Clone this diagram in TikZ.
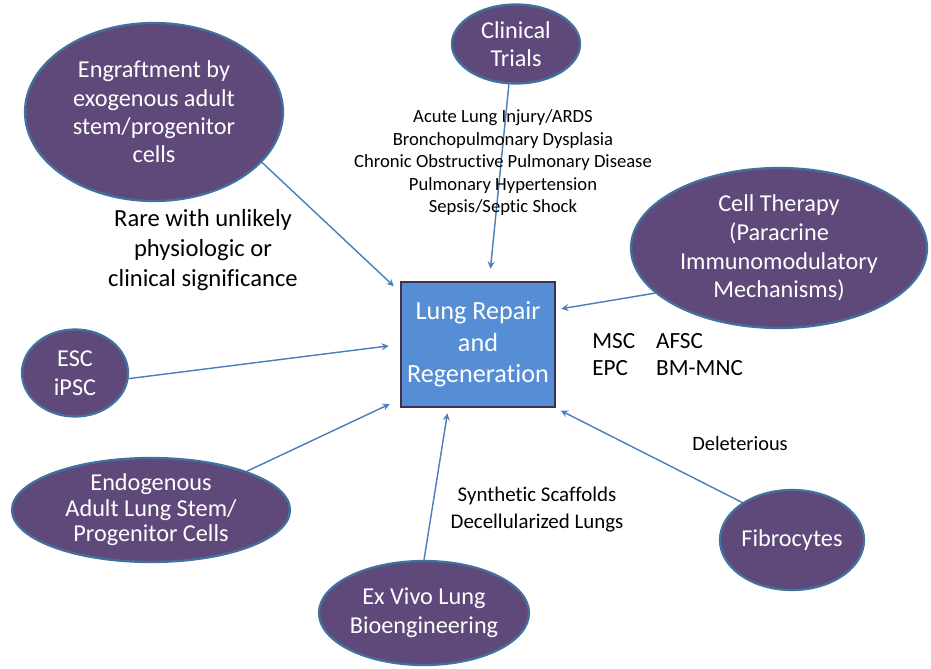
\documentclass[tikz,border=0pt]{standalone}
\usepackage{fontspec}
\setmainfont{Carlito}[Ligatures=CommonOff]
\usetikzlibrary{shapes.geometric}
\definecolor{bubble}{HTML}{5F497A}
\definecolor{rim}{HTML}{41719C}
\definecolor{boxfill}{HTML}{558ED5}
\definecolor{boxrim}{HTML}{3F3151}
\definecolor{link}{HTML}{4A7EBB}
\begin{document}
\begin{tikzpicture}[x=0.02cm,y=-0.02cm,
	arrow/.style={>=stealth,->,draw=link,fill=link,line width=0.8pt},
	bubble/.style={ellipse,fill=bubble,draw=rim,line width=1.3pt,text=white,align=center,inner sep=0pt,font=\fontsize{13.8}{16.3}\selectfont},
	note/.style={align=center}]
	\useasboundingbox (0,0) rectangle (931,669);
	% center box
	\node[draw=boxrim,fill=boxfill,line width=1.6pt,minimum width=3.08cm,minimum height=2.5cm,text=white,align=center,font=\fontsize{14.9}{18}\selectfont] (box) at (478,344.5) {Lung Repair\\and\\Regeneration};
	% ellipses
	\node[bubble,minimum width=2.56cm,minimum height=1.58cm] (trials) at (516,44) {Clinical\\Trials};
	\node[bubble,minimum width=5.16cm,minimum height=3.56cm,font=\fontsize{13.8}{16.1}\selectfont] (engraft) at (154,112) {Engraftment by\\exogenous adult\\stem/progenitor\\cells};
	\node[bubble,minimum width=5.92cm,minimum height=3.2cm] (therapy) at (779,248) {Cell Therapy\\(Paracrine\\Immunomodulatory\\Mechanisms)};
	\node[bubble,minimum width=2.12cm,minimum height=1.74cm] (esc) at (75,373) {ESC\\iPSC};
	\node[bubble,minimum width=5.56cm,minimum height=2.08cm,font=\fontsize{13.8}{14.6}\selectfont] (endo) at (151,510) {Endogenous\\Adult Lung Stem/\\Progenitor Cells};
	\node[bubble,minimum width=4.2cm,minimum height=2.08cm] (exvivo) at (424,613) {Ex Vivo Lung\\Bioengineering};
	\node[bubble,minimum width=2.88cm,minimum height=2cm] (fibro) at (792,540) {Fibrocytes};
	% connectors
	\foreach \from/\to/\gap in {trials.-100/box.80/0.24cm,engraft.-25/box.146/0.16cm,therapy.200/box.24/0.1cm,esc.-6/box.west/0.22cm,endo.22/box.215/0.22cm,exvivo.north/box.245/0.1cm,fibro.143/box.south east/0.1cm}
	\draw[arrow,shorten >=\gap] (\from)--(\to);
	% labels
	\node[note,font=\fontsize{10.6}{12.8}\selectfont] (diseases) at (503,163) {Acute Lung Injury/ARDS\\Bronchopulmonary Dysplasia\\Chronic Obstructive Pulmonary Disease\\Pulmonary Hypertension\\Sepsis/Septic Shock};
	\node[note,font=\fontsize{14}{17}\selectfont] (rare) at (203,250) {Rare with unlikely\\physiologic or\\clinical significance};
	\node[anchor=west,inner sep=0pt,font=\fontsize{13.2}{15.4}\selectfont] (cells) at (592,357) {\begin{tabular}{@{}l@{\hspace{0.42cm}}l@{}}MSC&AFSC\\EPC&BM-MNC\end{tabular}};
	\node[font=\fontsize{11.6}{14}\selectfont] (harm) at (740,443) {Deleterious};
	\node[note,font=\fontsize{11.9}{15.4}\selectfont] (scaffolds) at (537,510) {Synthetic Scaffolds\\Decellularized Lungs};
\end{tikzpicture}
\end{document}
